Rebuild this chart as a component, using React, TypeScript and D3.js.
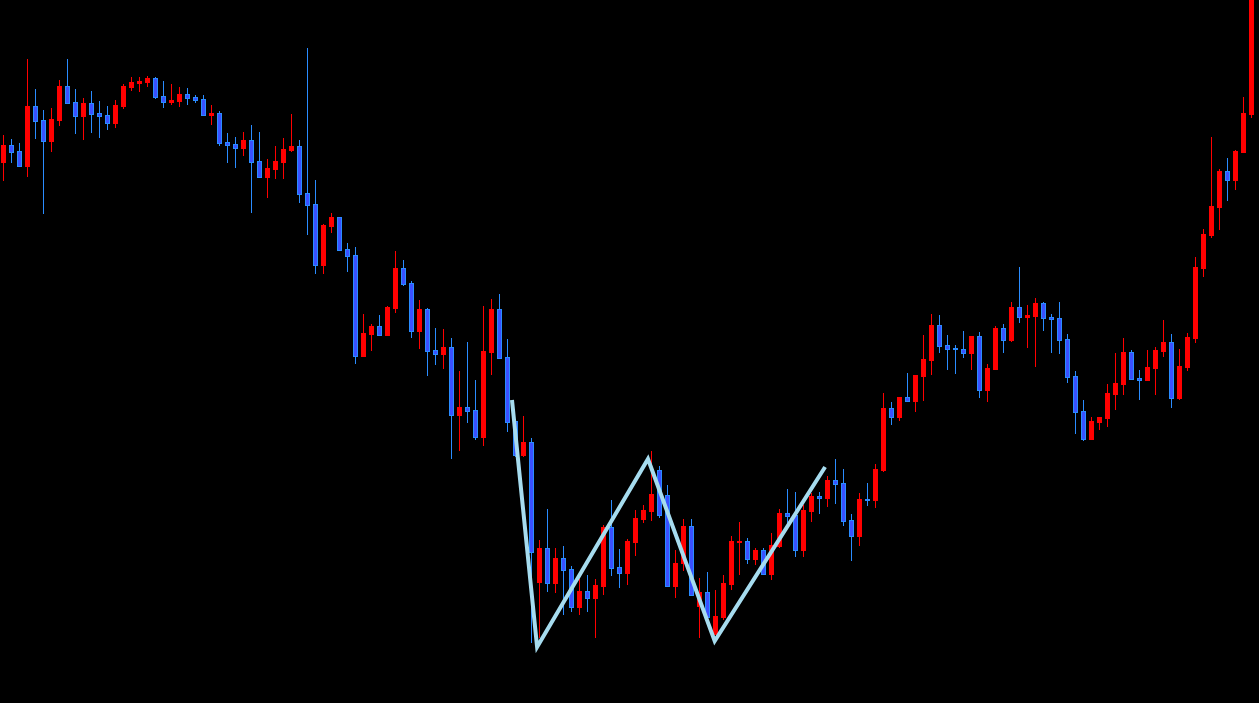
import React from "react";
import * as d3 from "d3";

// OHLC values (price in points)
const opens = [538,555,549,534,594,580,559,580,614,598,584,597,587,585,577,594,613,617,618,622,604,598,599,606,603,601,585,587,558,556,552,560,539,523,531,538,550,554,507,496,435,474,483,451,445,344,366,374,365,392,432,417,369,391,350,346,353,285,293,290,263,348,391,343,279,245,258,118,152,117,142,131,93,109,102,114,173,133,127,158,181,189,230,205,114,137,174,94,108,66,83,116,158,159,141,150,126,154,187,185,150,189,204,202,220,217,180,164,201,200,230,292,283,303,299,324,340,375,355,352,351,347,364,310,331,372,360,393,383,384,397,383,382,361,324,289,261,278,282,306,316,348,322,320,332,349,358,302,333,362,432,465,493,529,520,548,586];
const highs = [565,561,557,641,611,590,592,620,641,611,602,609,599,594,600,616,623,623,624,623,619,616,613,612,605,605,595,589,567,563,568,575,568,541,554,562,586,560,652,520,476,487,483,457,453,386,376,385,394,449,440,419,400,392,372,371,362,329,358,320,394,401,406,361,281,284,262,160,191,152,154,134,121,125,121,175,200,151,161,190,195,249,234,215,150,181,181,122,128,110,125,164,178,162,152,152,167,191,211,208,195,207,208,224,241,231,186,207,217,236,307,298,303,327,325,365,386,385,365,355,369,364,368,336,374,376,398,433,395,402,398,386,398,366,329,300,283,283,316,347,362,350,330,350,353,380,366,351,367,443,471,563,531,542,550,603,715];
const lows = [519,537,534,523,561,486,548,574,597,566,560,567,562,570,572,591,609,608,613,601,592,595,593,595,597,584,575,554,537,532,544,487,523,502,521,521,548,497,465,426,426,467,450,428,336,344,349,364,364,387,414,362,351,324,335,331,241,249,277,260,254,325,342,268,243,243,57,62,108,107,85,88,85,88,62,105,124,112,115,144,177,179,182,113,102,129,105,62,80,66,80,110,125,136,135,125,120,152,175,143,143,178,186,193,196,174,139,154,194,192,228,275,279,298,288,299,325,347,330,326,342,330,302,298,330,347,358,377,352,333,369,347,346,317,266,259,261,270,273,290,305,320,300,320,305,343,292,300,329,357,423,462,470,499,510,548,582];
const closes = [555,548,534,594,579,559,581,614,597,584,597,586,584,577,595,614,618,619,622,603,598,600,606,602,600,585,587,557,555,552,560,538,523,532,539,551,554,506,495,435,475,483,450,444,344,367,374,365,393,432,416,369,391,349,346,353,285,293,289,263,349,391,342,278,245,258,148,152,117,142,130,93,109,102,115,173,132,127,159,182,190,206,185,114,137,174,105,108,83,84,117,159,159,141,150,126,155,187,184,150,190,204,202,220,216,179,164,201,200,231,292,283,303,299,325,341,375,354,351,351,347,364,310,332,372,360,393,383,385,397,382,381,360,323,288,261,279,283,307,317,348,321,320,333,350,358,302,334,363,433,466,494,529,520,549,587,710];

// Zigzag pattern (bar index, price)
const zigIndex = [63.56, 66.7, 80.56, 88.9, 102.7];
const zigValue = [300, 53, 241, 59, 233];

const W = 1259;
const H = 703;

const BULL = "#ff0000";
const BEAR_FILL = "#3a50ff";
const BEAR_EDGE = "#2a8cff";
const ZIG = "#a6dcef";

export default function App() {
  const n = opens.length;
  const x = d3.scaleLinear().domain([0, n - 1]).range([3.5, 3.5 + 8 * (n - 1)]);
  const y = d3.scaleLinear().domain([0, 700]).range([700, 0]);

  const zigLine = d3
    .line<number>()
    .x((_, i) => x(zigIndex[i]))
    .y((v) => y(v));

  if (typeof document !== "undefined") {
    document.body.style.margin = "0";
    document.body.style.background = "#000";
  }

  return (
    <svg
      width={W}
      height={H}
      style={{ position: "fixed", left: 0, top: 0, background: "#000", display: "block" }}
    >
      <rect x={0} y={0} width={W} height={H} fill="#000" />
      {opens.map((o, i) => {
        const c = closes[i];
        const bull = c >= o;
        const cx = x(i);
        const top = y(Math.max(o, c));
        const bot = y(Math.min(o, c));
        const edge = bull ? BULL : BEAR_EDGE;
        return (
          <g key={i}>
            <line
              x1={cx}
              x2={cx}
              y1={Math.round(y(highs[i]))}
              y2={Math.round(y(lows[i]))}
              stroke={edge}
              strokeWidth={1}
            />
            <rect
              x={cx - 2}
              y={Math.round(top) + 0.5}
              width={4}
              height={Math.max(1, Math.round(bot) - Math.round(top))}
              fill={bull ? BULL : BEAR_FILL}
              stroke={edge}
              strokeWidth={1}
            />
          </g>
        );
      })}
      <path
        d={zigLine(zigValue) || ""}
        fill="none"
        stroke={ZIG}
        strokeWidth={4}
        strokeLinejoin="miter"
        strokeLinecap="butt"
      />
    </svg>
  );
}
